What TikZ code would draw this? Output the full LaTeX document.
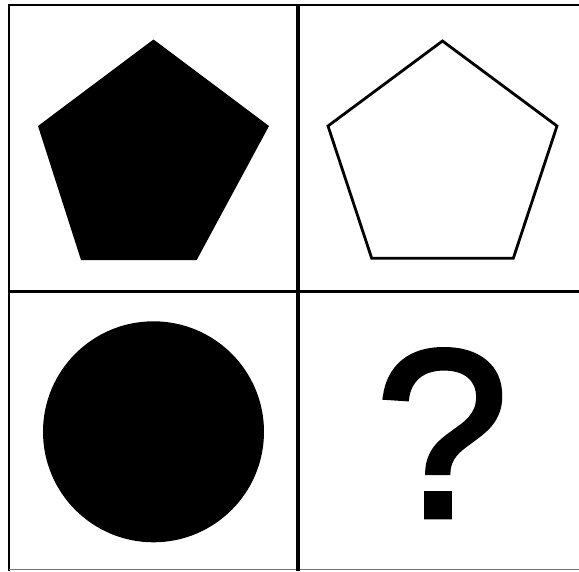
\documentclass[tikz,border=0pt]{standalone}
\usepackage{fontspec}
\setmainfont{Liberation Sans}
\newfontfamily\qfont[FakeBold=2]{Liberation Sans}
\begin{document}
\begin{tikzpicture}[x=1pt,y=-1pt,
  gridline/.style={line width=3.2pt,draw=black},
  outerline/.style={line width=2.5pt,draw=black}]
\useasboundingbox[fill=white] (0,0) rectangle (579,571);
% grid
\draw[outerline] (9,571) -- (9,5) -- (579,5);
\draw[line width=1pt,draw=black!55] (9,569.5) -- (579,569.5);
\draw[gridline] (298,5) -- (298,571);
\draw[gridline] (9,291.5) -- (579,291.5);
% filled pentagon
\fill[black] (153.5,39.5) -- (269,126) -- (196.7,260) -- (81,260) -- (38,126) -- cycle;
% outlined pentagon
\draw[line width=2.8pt,line join=miter] (442.5,41) -- (557,126) -- (513.3,258.3) -- (371.7,258.3) -- (328,126) -- cycle;
% circle
\fill[black] (153.5,431.8) circle[radius=110.5];
% question mark
\node[anchor=base,inner sep=0pt,font=\qfont\fontsize{240}{240}\selectfont] (q) at (442,517) {?};
\end{tikzpicture}
\end{document}
